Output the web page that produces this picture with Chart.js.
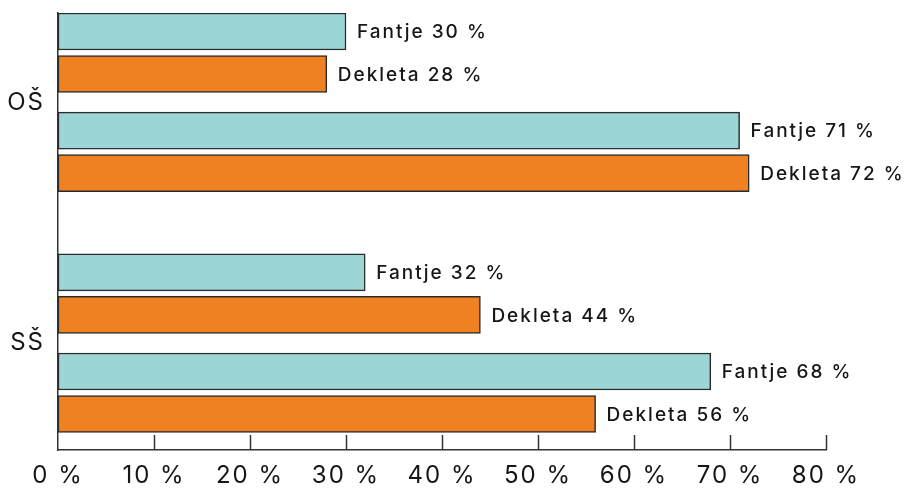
<!DOCTYPE html>
<html>
<head>
<meta charset="utf-8">
<script src="https://cdn.jsdelivr.net/npm/chart.js@4"></script>
<style>
  html, body { margin: 0; padding: 0; background: #fff; }
  #wrap { width: 906px; height: 488px; }
</style>
</head>
<body>
<div id="wrap"><canvas id="myChart"></canvas></div>
<script>
var groups = ['OŠ', 'SŠ'];
var fantje = [30, 71, 32, 68];
var dekleta = [28, 72, 44, 56];
var xTicks = [0, 10, 20, 30, 40, 50, 60, 70, 80];

// two pairs of bars per group, each pair = Fantje over Dekleta
var PAIRS = 2, PAIR_ROWS = 7, GROUP_ROWS = 17, DEKLETA_OFFSET = 3;
function rowOf(i) {
  return Math.floor(i / PAIRS) * GROUP_ROWS + (i % PAIRS) * PAIR_ROWS;
}
function groupRow(g) {
  return g * GROUP_ROWS + ((PAIRS - 1) * PAIR_ROWS + DEKLETA_OFFSET) / 2;
}

var INK = '#161616';
var FONT = 'Inter, "DejaVu Sans", sans-serif';

var barLabels = {
  id: 'barLabels',
  afterDatasetsDraw: function(chart) {
    var ctx = chart.ctx;
    ctx.save();
    ctx.letterSpacing = '2px';
    ctx.font = '500 19px ' + FONT;
    ctx.fillStyle = INK;
    ctx.textAlign = 'left';
    ctx.textBaseline = 'middle';
    chart.data.datasets.forEach(function(ds, d) {
      chart.getDatasetMeta(d).data.forEach(function(bar, i) {
        ctx.fillText(ds.label + ' ' + ds.data[i].x + ' %', bar.x + 11, bar.y + 1);
      });
    });
    ctx.restore();
  }
};

// tick marks on the x axis point up into the plot
var upTicks = {
  id: 'upTicks',
  afterDraw: function(chart) {
    var ctx = chart.ctx, x = chart.scales.x, bottom = chart.chartArea.bottom;
    ctx.save();
    ctx.strokeStyle = '#333';
    ctx.lineWidth = 1.5;
    xTicks.forEach(function(v) {
      if (v === 0) return;
      var px = Math.round(x.getPixelForValue(v)) + 0.5;
      ctx.beginPath();
      ctx.moveTo(px, bottom);
      ctx.lineTo(px, bottom - 15);
      ctx.stroke();
    });
    ctx.restore();
  },
  beforeDraw: function(chart) {
    chart.ctx.letterSpacing = '2px';
  }
};

var ctx = document.getElementById('myChart').getContext('2d');
var myChart = new Chart(ctx, {
  type: 'bar',
  plugins: [barLabels, upTicks],
  data: {
    datasets: [{
      label: 'Fantje',
      data: fantje.map(function(v, i) { return {x: v, y: rowOf(i)}; }),
      backgroundColor: '#9bd5d6'
    }, {
      label: 'Dekleta',
      data: dekleta.map(function(v, i) { return {x: v, y: rowOf(i) + DEKLETA_OFFSET}; }),
      backgroundColor: '#f08122'
    }]
  },
  options: {
    indexAxis: 'y',
    responsive: true,
    maintainAspectRatio: false,
    animation: false,
    devicePixelRatio: 1,
    layout: { padding: { top: 13, right: 80, bottom: 0, left: 0 } },
    datasets: {
      bar: {
        grouped: false,
        barThickness: 37,
        borderWidth: 1.5,
        borderColor: '#2b2b2b',
        borderSkipped: false
      }
    },
    plugins: {
      legend: { display: false },
      tooltip: { enabled: false }
    },
    scales: {
      x: {
        type: 'linear',
        min: 0,
        max: 80,
        afterBuildTicks: function(scale) {
          scale.ticks = xTicks.map(function(v) { return {value: v}; });
        },
        afterFit: function(scale) { scale.height = 38; },
        grid: { display: false, drawTicks: false },
        border: { display: true, color: '#333', width: 1.5 },
        ticks: {
          padding: 11,
          color: INK,
          font: { family: FONT, size: 24 },
          maxRotation: 0,
          callback: function(v) { return v + ' %'; }
        }
      },
      y: {
        type: 'linear',
        reverse: true,
        offset: false,
        min: -1.306,
        max: 29.54,
        afterBuildTicks: function(scale) {
          scale.ticks = groups.map(function(g, i) { return {value: groupRow(i)}; });
        },
        afterFit: function(scale) {
          scale.width = 58;
          scale.paddingTop = 0;
          scale.paddingBottom = 0;
        },
        grid: { display: false, drawTicks: false },
        border: { display: true, color: '#333', width: 1.5 },
        ticks: {
          padding: 13,
          color: INK,
          font: { family: FONT, size: 24 },
          callback: function(v) {
            for (var g = 0; g < groups.length; g++) {
              if (Math.abs(groupRow(g) - v) < 0.01) return groups[g];
            }
            return '';
          }
        }
      }
    }
  }
});
</script>
</body>
</html>
